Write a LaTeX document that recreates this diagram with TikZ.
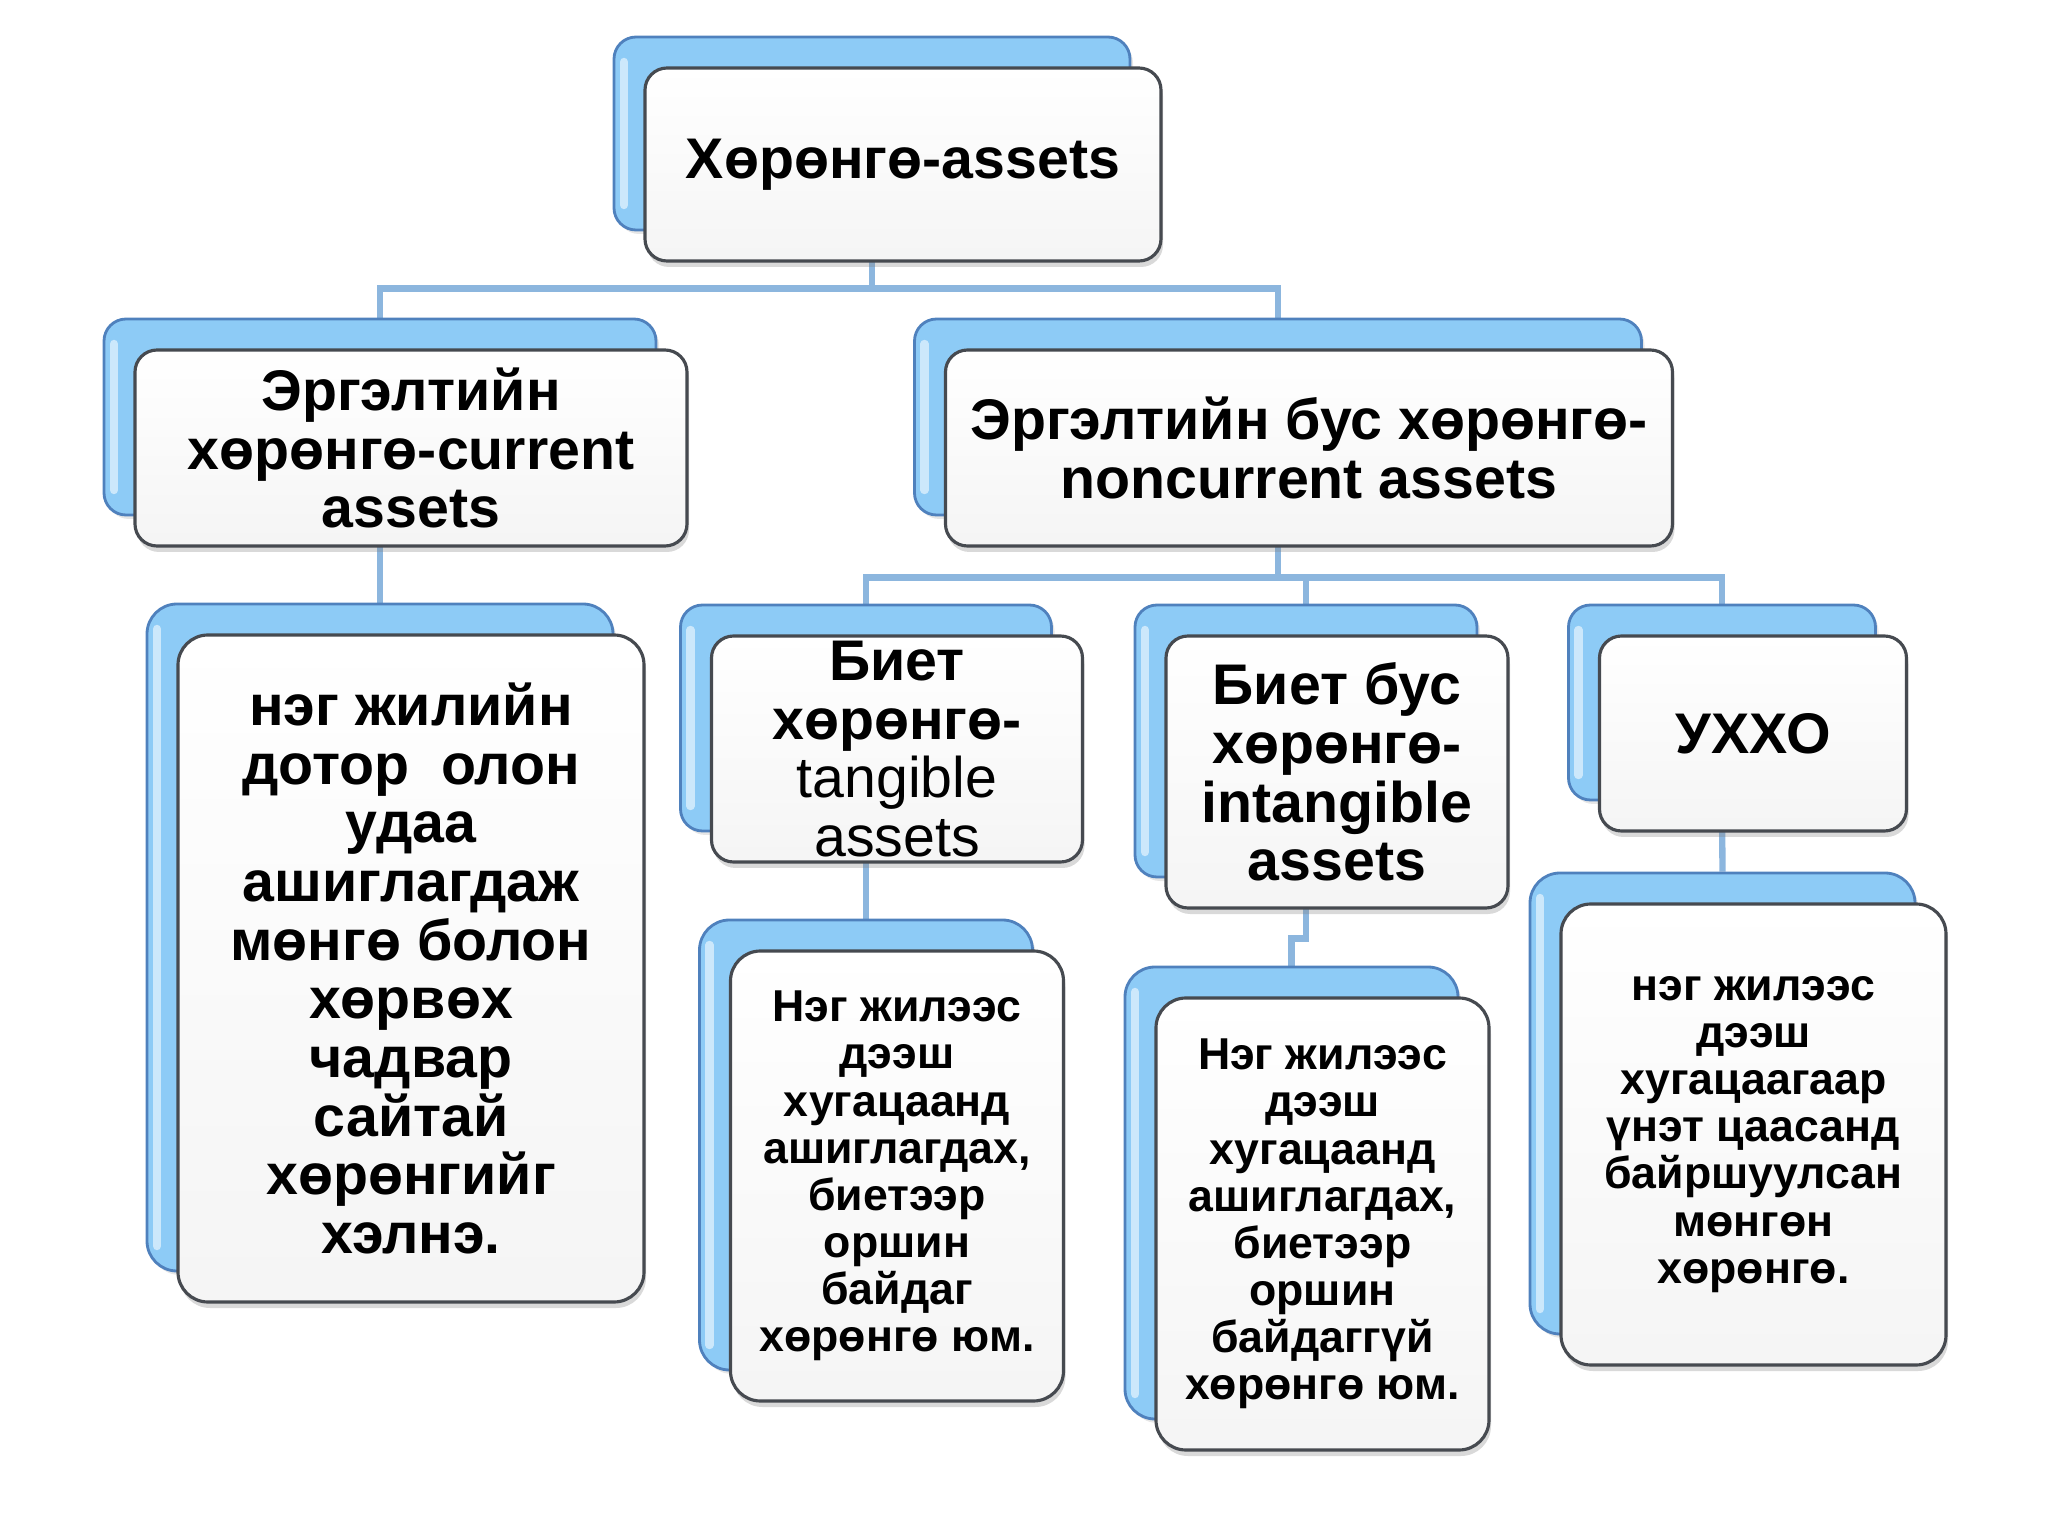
\documentclass[tikz,border=0pt]{standalone}
\usepackage{fontspec}
\setmainfont{Liberation Sans}
\usetikzlibrary{positioning,shadows,backgrounds}
\definecolor{cardblue}{RGB}{141,203,246}
\definecolor{cardedge}{RGB}{79,129,189}
\definecolor{linkblue}{RGB}{140,182,222}
\definecolor{frontedge}{RGB}{70,74,80}

\tikzset{
  cardsize/.style 2 args={minimum width=#1, minimum height=#2},
  backcard/.style={rectangle, rounded corners=0.22cm, draw=cardedge,
        line width=0.8pt, fill=cardblue, inner sep=0pt,
        drop shadow={opacity=0.2, shadow xshift=0.03cm, shadow yshift=-0.04cm},
        path picture={
          \draw[white!55!cardblue, line width=2.4pt, line cap=round]
            ([xshift=0.1cm,yshift=-0.25cm]path picture bounding box.north west)
            -- ([xshift=0.1cm,yshift=0.25cm]path picture bounding box.south west);
        }},
  frontcard/.style={rectangle, rounded corners=0.22cm, draw=frontedge,
        line width=0.9pt, top color=white, bottom color=black!4,
        drop shadow={opacity=0.3, shadow xshift=0.02cm, shadow yshift=-0.06cm},
        align=center, inner sep=0pt,
        font=\bfseries\fontsize{16.3}{16.7}\selectfont},
  smalltext/.style={font=\bfseries\fontsize{12.7}{13.4}\selectfont},
  link/.style={draw=linkblue, line width=1.8pt},
}

\begin{document}
\begin{tikzpicture}
  \useasboundingbox (0,0) rectangle (20.48,-15.36);

  % level 1
  \node[backcard, cardsize={5.16cm}{1.93cm}] (assets) at (8.72,-1.335) {};
  \node[frontcard, cardsize={5.16cm}{1.93cm}] (assets-f)
    at ([shift={(0.31,-0.31)}]assets.center) {Хөрөнгө-assets};

  % level 2
  \node[backcard, cardsize={5.52cm}{1.96cm}] (current) at (3.80,-4.17) {};
  \node[frontcard, cardsize={5.52cm}{1.96cm}] (current-f)
    at ([shift={(0.31,-0.31)}]current.center)
    {Эргэлтийн\\хөрөнгө-current\\assets};

  \node[backcard, cardsize={7.27cm}{1.96cm}] (noncurrent) at (12.78,-4.17) {};
  \node[frontcard, cardsize={7.27cm}{1.96cm}] (noncurrent-f)
    at ([shift={(0.31,-0.31)}]noncurrent.center)
    {Эргэлтийн бус хөрөнгө-\\noncurrent assets};

  % level 3
  \node[backcard, rounded corners=0.3cm, cardsize={4.66cm}{6.67cm}] (currentdesc)
    at (3.80,-9.375) {};
  \node[frontcard, rounded corners=0.3cm, cardsize={4.66cm}{6.67cm}] (currentdesc-f)
    at ([shift={(0.31,-0.31)}]currentdesc.center)
    {нэг жилийн\\дотор\ \ олон\\удаа\\ашиглагдаж\\мөнгө болон\\хөрвөх\\чадвар\\сайтай\\хөрөнгийг\\хэлнэ.};

  \node[backcard, cardsize={3.71cm}{2.26cm}] (tangible) at (8.66,-7.18) {};
  \node[frontcard, cardsize={3.71cm}{2.26cm}] (tangible-f)
    at ([shift={(0.31,-0.31)}]tangible.center)
    {Биет\\хөрөнгө-\\{\mdseries tangible}\\{\mdseries assets}};

  \node[backcard, cardsize={3.42cm}{2.72cm}] (intangible) at (13.06,-7.41) {};
  \node[frontcard, cardsize={3.42cm}{2.72cm}] (intangible-f)
    at ([shift={(0.31,-0.31)}]intangible.center)
    {Биет бус\\хөрөнгө-\\intangible\\assets};

  \node[backcard, cardsize={3.07cm}{1.95cm}] (uxxo) at (17.22,-7.025) {};
  \node[frontcard, cardsize={3.07cm}{1.95cm}] (uxxo-f)
    at ([shift={(0.31,-0.31)}]uxxo.center) {УХХО};

  % level 4 -- descriptions
  \node[backcard, rounded corners=0.3cm, cardsize={3.33cm}{4.50cm}] (tangdesc)
    at (8.66,-11.45) {};
  \node[frontcard, smalltext, rounded corners=0.3cm, cardsize={3.33cm}{4.50cm}] (tangdesc-f)
    at ([shift={(0.31,-0.31)}]tangdesc.center)
    {Нэг жилээс\\дээш\\хугацаанд\\ашиглагдах,\\биетээр\\оршин\\байдаг\\хөрөнгө юм.};

  \node[backcard, rounded corners=0.3cm, cardsize={3.33cm}{4.52cm}] (intdesc)
    at (12.915,-11.93) {};
  \node[frontcard, smalltext, rounded corners=0.3cm, cardsize={3.33cm}{4.52cm}] (intdesc-f)
    at ([shift={(0.31,-0.31)}]intdesc.center)
    {Нэг жилээс\\дээш\\хугацаанд\\ашиглагдах,\\биетээр\\оршин\\байдаггүй\\хөрөнгө юм.};

  \node[backcard, rounded corners=0.3cm, cardsize={3.85cm}{4.61cm}] (uxxodesc)
    at (17.225,-11.035) {};
  \node[frontcard, smalltext, rounded corners=0.3cm, cardsize={3.85cm}{4.61cm}] (uxxodesc-f)
    at ([shift={(0.31,-0.31)}]uxxodesc.center)
    {нэг жилээс\\дээш\\хугацаагаар\\үнэт цаасанд\\байршуулсан\\мөнгөн\\хөрөнгө.};

  % connectors run behind the cards
  \begin{pgfonlayer}{background}
    \draw[link] (assets.south) -- ++(0,-0.57) -| (current.north);
    \draw[link] (assets.south) -- ++(0,-0.57) -| (noncurrent.north);
    \draw[link] (current.south) -- (currentdesc.north);
    \draw[link] (noncurrent.south) -- ++(0,-0.61) -| (tangible.north);
    \draw[link] (noncurrent.south) -- ++(0,-0.61) -| (intangible.north);
    \draw[link] (noncurrent.south) -- ++(0,-0.61) -| (uxxo.north);
    \draw[link] (tangible.south) -- (tangdesc.north);
    \draw[link] (intangible.south) -- ++(0,-0.60) -| (intdesc.north);
    \draw[link] (uxxo.south) -- (uxxodesc.north);
  \end{pgfonlayer}
\end{tikzpicture}
\end{document}
